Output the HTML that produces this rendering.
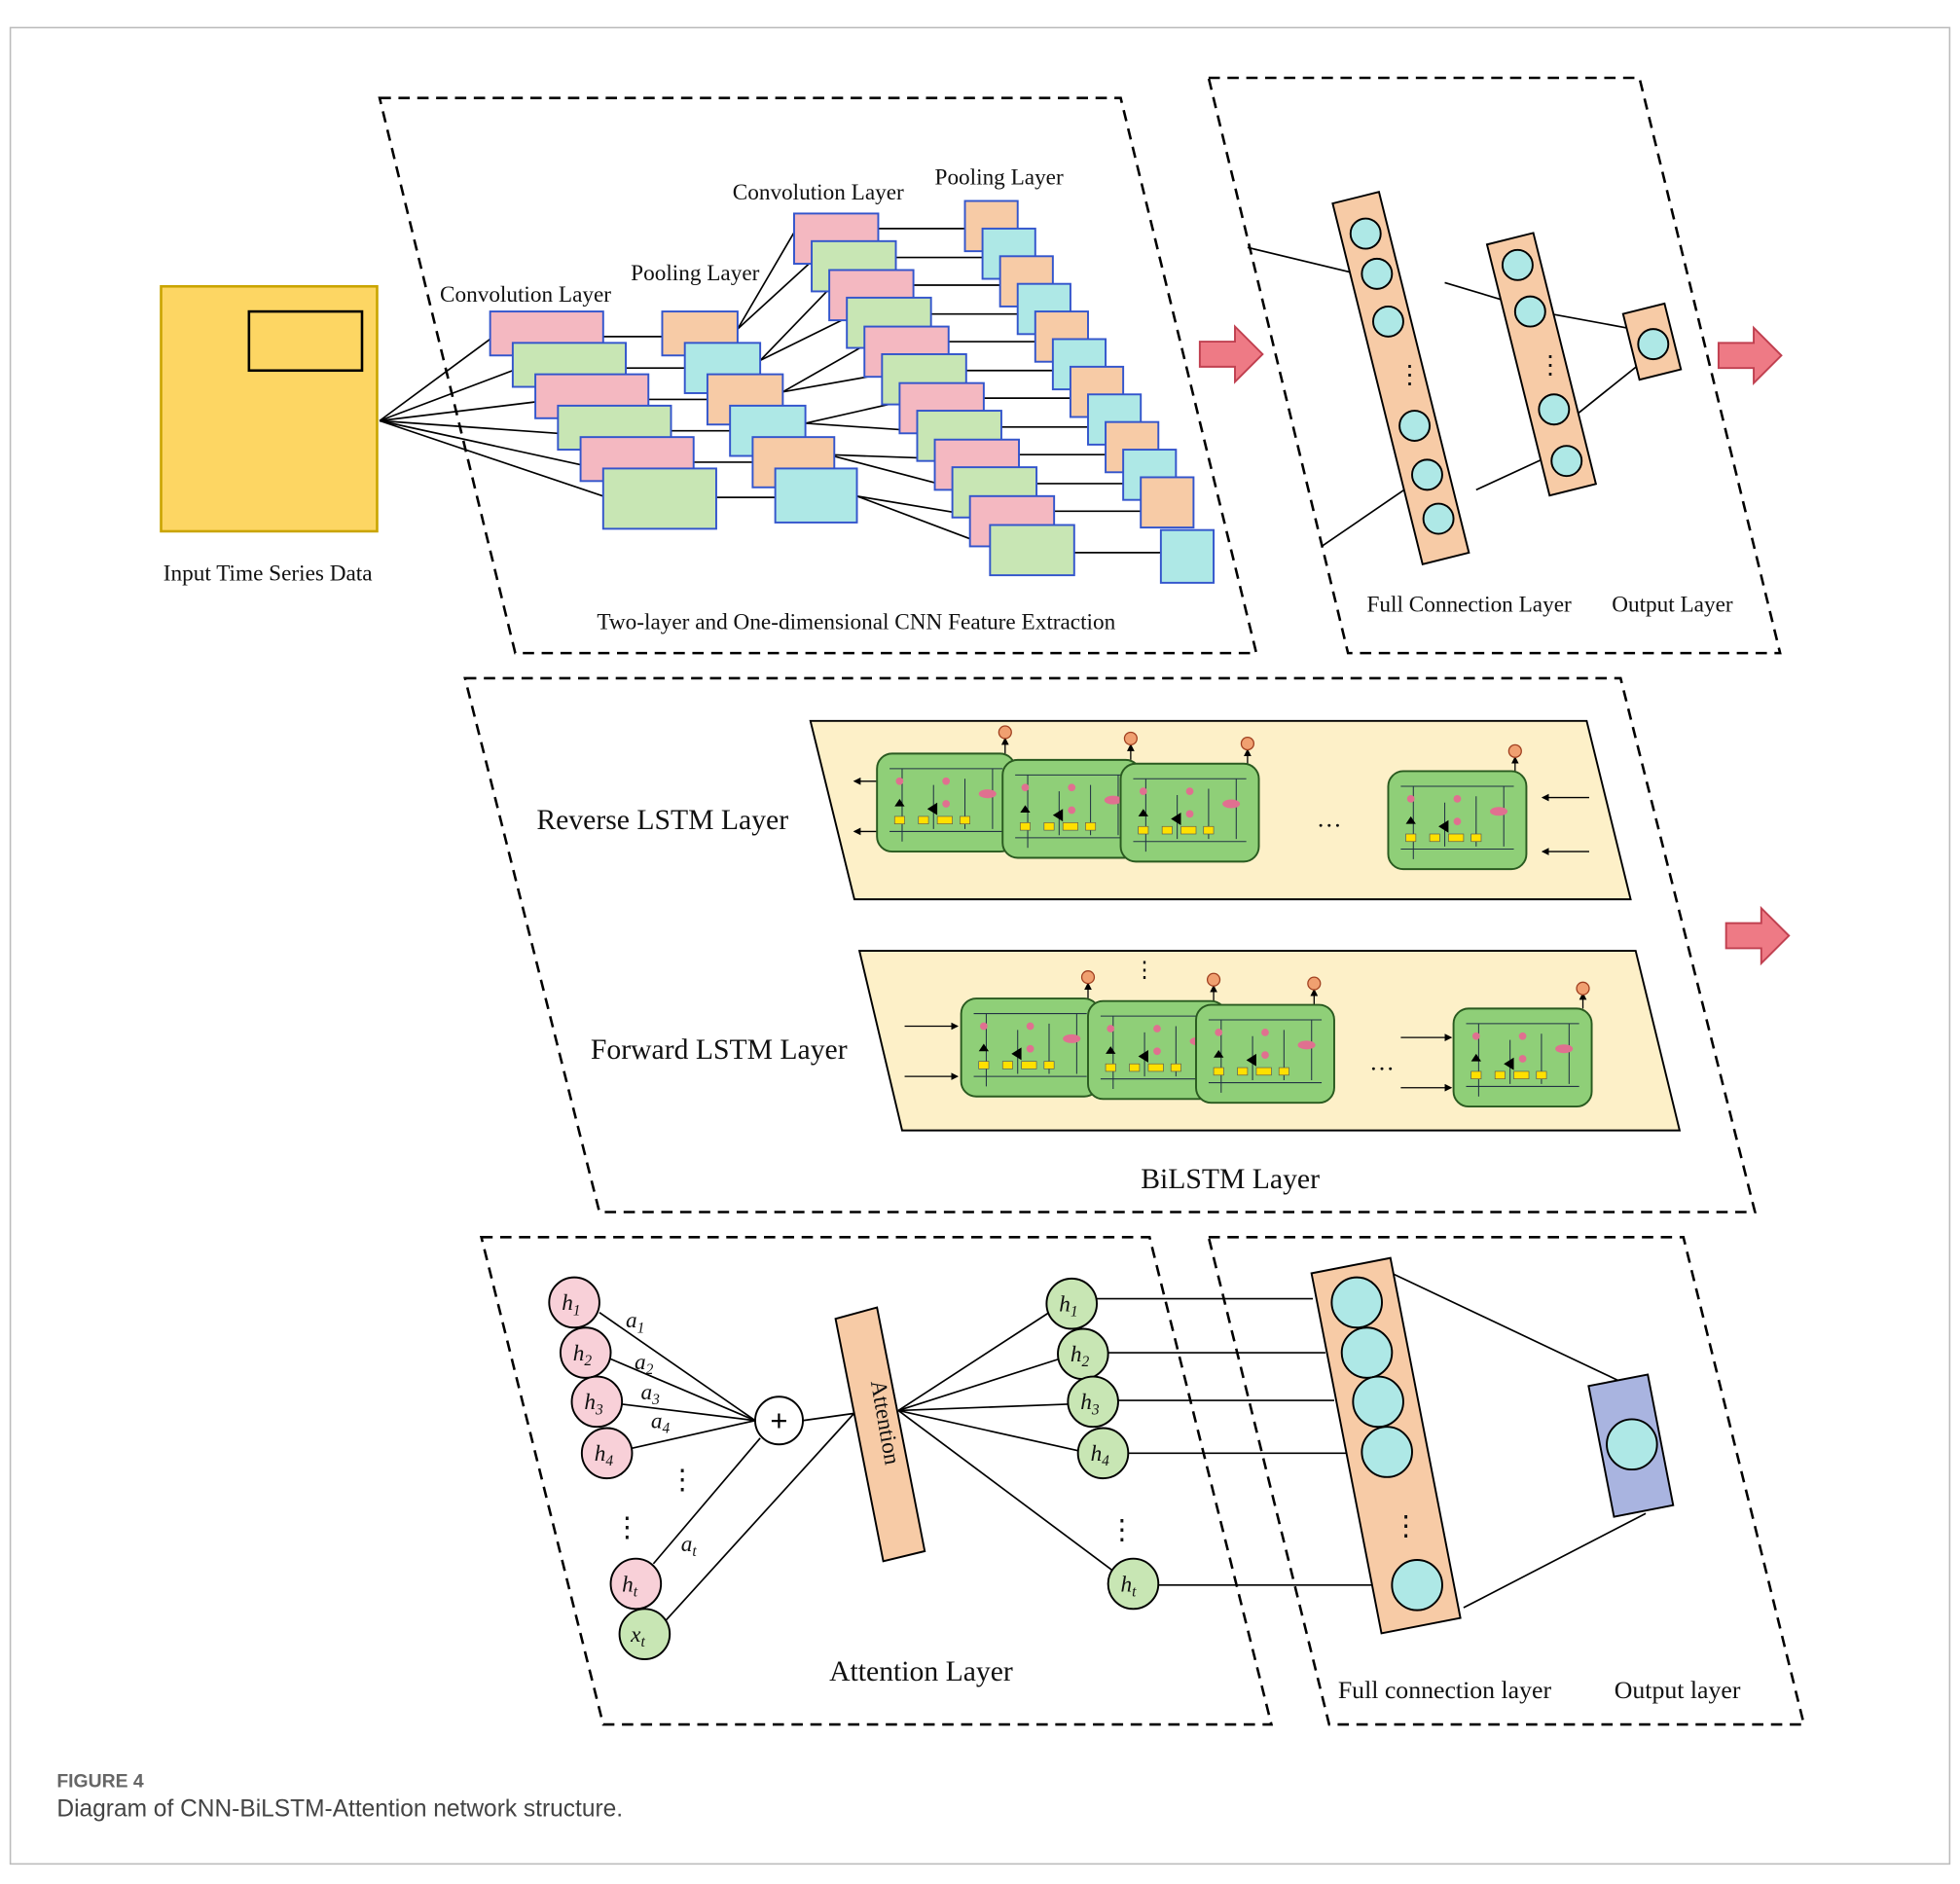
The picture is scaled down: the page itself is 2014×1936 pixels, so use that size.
<!DOCTYPE html>
<html><head><meta charset="utf-8"><style>
html,body{margin:0;padding:0;background:#fff;}
svg{display:block;}
.s{font-family:"Liberation Serif",serif;fill:#111;}
</style></head><body>
<svg width="2014" height="1936" viewBox="0 0 1560 1500" xmlns="http://www.w3.org/2000/svg">
<defs>
<marker id="ah" markerWidth="6" markerHeight="6" refX="5" refY="3" orient="auto"><path d="M0,0 L6,3 L0,6z" fill="#000"/></marker>
<g id="cell">
 <rect x="0" y="0" width="110" height="78" rx="12" fill="#8fcf78" stroke="#2a5a20" stroke-width="1.5"/>
 <path d="M10,12 H100 M10,62 H100 M20,12 V70 M45,25 V60 M70,20 V60 M92,12 V60" stroke="#234" stroke-width="0.8" fill="none"/>
 <rect x="14" y="50" width="8" height="6" fill="#ffe000" stroke="#555" stroke-width="0.5"/>
 <rect x="33" y="50" width="8" height="6" fill="#ffe000" stroke="#555" stroke-width="0.5"/>
 <rect x="48" y="50" width="12" height="6" fill="#ffe000" stroke="#555" stroke-width="0.5"/>
 <rect x="66" y="50" width="8" height="6" fill="#ffe000" stroke="#555" stroke-width="0.5"/>
 <circle cx="18" cy="22" r="3" fill="#e07090"/><circle cx="55" cy="22" r="3" fill="#e07090"/><circle cx="55" cy="40" r="3" fill="#e07090"/>
 <ellipse cx="88" cy="32" rx="7" ry="3.5" fill="#e07090"/>
 <path d="M40,44 l8,-5 v10z M18,36 l-4,6 h8z" fill="#000"/>
</g>
</defs>
<rect x="8" y="22" width="1544" height="1462" fill="none" stroke="#bbb" stroke-width="1.2"/>
<g fill="none" stroke="#000" stroke-width="2" stroke-dasharray="9,6">
<polygon points="302,78 892,78 1000,520 410,520"/>
<polygon points="962,62 1305,62 1417,520 1073,520"/>
<polygon points="370,540 1290,540 1397,965 477,965"/>
<polygon points="383,985 915,985 1012,1373 480,1373"/>
<polygon points="962,985 1340,985 1436,1373 1058,1373"/>
</g>
<!-- input -->
<rect x="128" y="228" width="172" height="195" fill="#fdd663" stroke="#c9a400" stroke-width="2"/>
<rect x="198" y="248" width="90" height="47" fill="none" stroke="#000" stroke-width="2"/>
<text class="s" x="213" y="462" font-size="18" text-anchor="middle">Input Time Series Data</text>
<!-- CNN lines -->
<g stroke="#000" stroke-width="1.3">
<line x1="302" y1="335" x2="390" y2="270"/><line x1="302" y1="335" x2="408" y2="295"/><line x1="302" y1="335" x2="426" y2="320"/><line x1="302" y1="335" x2="444" y2="345"/><line x1="302" y1="335" x2="462" y2="370"/><line x1="302" y1="335" x2="480" y2="395"/>
<line x1="480" y1="268" x2="527" y2="268"/><line x1="498" y1="293" x2="545" y2="293"/><line x1="516" y1="318" x2="563" y2="318"/><line x1="534" y1="343" x2="581" y2="343"/><line x1="552" y1="368" x2="599" y2="368"/><line x1="570" y1="396" x2="617" y2="396"/>
<line x1="587" y1="262" x2="632" y2="185"/><line x1="587" y1="262" x2="646" y2="208"/><line x1="605" y1="287" x2="660" y2="230"/><line x1="605" y1="287" x2="674" y2="253"/><line x1="623" y1="312" x2="688" y2="275"/><line x1="623" y1="312" x2="702" y2="298"/><line x1="641" y1="337" x2="716" y2="320"/><line x1="641" y1="337" x2="730" y2="343"/><line x1="659" y1="362" x2="744" y2="365"/><line x1="659" y1="362" x2="758" y2="388"/><line x1="682" y1="395" x2="772" y2="410"/><line x1="682" y1="395" x2="788" y2="435"/>
</g>
<g stroke="#3355cc" stroke-width="1.5">
<rect x="390" y="248" width="90" height="35" fill="#f4b8c1"/>
<rect x="408" y="273" width="90" height="35" fill="#c8e6b4"/>
<rect x="426" y="298" width="90" height="35" fill="#f4b8c1"/>
<rect x="444" y="323" width="90" height="35" fill="#c8e6b4"/>
<rect x="462" y="348" width="90" height="35" fill="#f4b8c1"/>
<rect x="480" y="373" width="90" height="48" fill="#c8e6b4"/>
<rect x="527" y="248" width="60" height="35" fill="#f7cba6"/>
<rect x="545" y="273" width="60" height="40" fill="#aee8e6"/>
<rect x="563" y="298" width="60" height="40" fill="#f7cba6"/>
<rect x="581" y="323" width="60" height="40" fill="#aee8e6"/>
<rect x="599" y="348" width="65" height="40" fill="#f7cba6"/>
<rect x="617" y="373" width="65" height="43" fill="#aee8e6"/>
</g>
<g stroke="#000" stroke-width="1.3">
<line x1="699" y1="182" x2="768" y2="182"/><line x1="713" y1="205" x2="782" y2="205"/><line x1="727" y1="227" x2="796" y2="227"/><line x1="741" y1="250" x2="810" y2="250"/><line x1="755" y1="272" x2="824" y2="272"/><line x1="769" y1="295" x2="838" y2="295"/><line x1="783" y1="317" x2="852" y2="317"/><line x1="797" y1="340" x2="866" y2="340"/><line x1="811" y1="362" x2="880" y2="362"/><line x1="825" y1="385" x2="894" y2="385"/><line x1="839" y1="407" x2="908" y2="407"/><line x1="855" y1="440" x2="924" y2="440"/>
</g>
<g stroke="#3355cc" stroke-width="1.5">
<rect x="632" y="170" width="67" height="40" fill="#f4b8c1"/>
<rect x="646" y="192" width="67" height="40" fill="#c8e6b4"/>
<rect x="660" y="215" width="67" height="40" fill="#f4b8c1"/>
<rect x="674" y="237" width="67" height="40" fill="#c8e6b4"/>
<rect x="688" y="260" width="67" height="40" fill="#f4b8c1"/>
<rect x="702" y="282" width="67" height="40" fill="#c8e6b4"/>
<rect x="716" y="305" width="67" height="40" fill="#f4b8c1"/>
<rect x="730" y="327" width="67" height="40" fill="#c8e6b4"/>
<rect x="744" y="350" width="67" height="40" fill="#f4b8c1"/>
<rect x="758" y="372" width="67" height="40" fill="#c8e6b4"/>
<rect x="772" y="395" width="67" height="40" fill="#f4b8c1"/>
<rect x="788" y="418" width="67" height="40" fill="#c8e6b4"/>
<rect x="768" y="160" width="42" height="40" fill="#f7cba6"/>
<rect x="782" y="182" width="42" height="40" fill="#aee8e6"/>
<rect x="796" y="204" width="42" height="40" fill="#f7cba6"/>
<rect x="810" y="226" width="42" height="40" fill="#aee8e6"/>
<rect x="824" y="248" width="42" height="40" fill="#f7cba6"/>
<rect x="838" y="270" width="42" height="40" fill="#aee8e6"/>
<rect x="852" y="292" width="42" height="40" fill="#f7cba6"/>
<rect x="866" y="314" width="42" height="40" fill="#aee8e6"/>
<rect x="880" y="336" width="42" height="40" fill="#f7cba6"/>
<rect x="894" y="358" width="42" height="40" fill="#aee8e6"/>
<rect x="908" y="380" width="42" height="40" fill="#f7cba6"/>
<rect x="924" y="422" width="42" height="42" fill="#aee8e6"/>
</g>
<g class="s" font-size="18">
<text x="350" y="240">Convolution Layer</text>
<text x="502" y="223">Pooling Layer</text>
<text x="583" y="159">Convolution Layer</text>
<text x="744" y="147">Pooling Layer</text>
<text x="475" y="501">Two-layer and One-dimensional CNN Feature Extraction</text>
<text x="1088" y="487">Full Connection Layer</text>
<text x="1283" y="487">Output Layer</text>
</g>
<!-- pink arrows -->
<g fill="#ee7a85" stroke="#c04050" stroke-width="1.5">
<path d="M955,272 h28 v-12 l22,22 l-22,22 v-12 h-28z"/>
<path d="M1368,273 h28 v-12 l22,22 l-22,22 v-12 h-28z"/>
<path d="M1374,735 h28 v-12 l22,22 l-22,22 v-12 h-28z"/>
</g>
<!-- FC top -->
<g stroke="#000" stroke-width="1.3">
<line x1="993" y1="197" x2="1080" y2="218"/><line x1="1052" y1="435" x2="1125" y2="385"/>
<line x1="1150" y1="225" x2="1200" y2="240"/><line x1="1175" y1="390" x2="1240" y2="360"/>
<line x1="1235" y1="250" x2="1300" y2="262"/><line x1="1255" y1="330" x2="1305" y2="290"/>
</g>
<g transform="rotate(-14 1115 301)"><rect x="1096" y="153" width="38" height="296" fill="#f7cba6" stroke="#000" stroke-width="1.5"/></g>
<g transform="rotate(-14 1227 290)"><rect x="1208" y="187" width="38" height="206" fill="#f7cba6" stroke="#000" stroke-width="1.5"/></g>
<g transform="rotate(-14 1315 272)"><rect x="1298" y="245" width="34" height="54" fill="#f7cba6" stroke="#000" stroke-width="1.5"/></g>
<g fill="#aee8e6" stroke="#000" stroke-width="1.5">
<circle cx="1087" cy="186" r="12"/><circle cx="1096" cy="218" r="12"/><circle cx="1105" cy="256" r="12"/><circle cx="1126" cy="339" r="12"/><circle cx="1136" cy="378" r="12"/><circle cx="1145" cy="413" r="12"/>
<circle cx="1208" cy="211" r="12"/><circle cx="1218" cy="248" r="12"/><circle cx="1237" cy="326" r="12"/><circle cx="1247" cy="367" r="12"/>
<circle cx="1316" cy="274" r="12"/>
</g>
<text class="s" x="1112" y="305" font-size="20">⋮</text><text class="s" x="1224" y="297" font-size="20">⋮</text>
<!-- BiLSTM -->
<polygon points="645,574 1263,574 1298,716 680,716" fill="#fdf0c8" stroke="#000" stroke-width="1.5"/>
<polygon points="684,757 1302,757 1337,900 718,900" fill="#fdf0c8" stroke="#000" stroke-width="1.5"/>
<g stroke="#000" stroke-width="1" marker-end="url(#ah)">
<line x1="700" y1="622" x2="680" y2="622"/><line x1="700" y1="662" x2="680" y2="662"/>
<line x1="1265" y1="635" x2="1228" y2="635"/><line x1="1265" y1="678" x2="1228" y2="678"/>
<line x1="720" y1="817" x2="762" y2="817"/><line x1="720" y1="857" x2="762" y2="857"/>
<line x1="1115" y1="826" x2="1155" y2="826"/><line x1="1115" y1="866" x2="1155" y2="866"/>
<line x1="800" y1="600" x2="800" y2="588"/><line x1="900" y1="605" x2="900" y2="593"/><line x1="993" y1="608" x2="993" y2="597"/><line x1="1206" y1="614" x2="1206" y2="603"/>
<line x1="866" y1="795" x2="866" y2="783"/><line x1="966" y1="797" x2="966" y2="785"/><line x1="1046" y1="800" x2="1046" y2="788"/><line x1="1260" y1="803" x2="1260" y2="791"/>
</g>
<g fill="#f0a070" stroke="#a04020" stroke-width="1">
<circle cx="800" cy="583" r="5"/><circle cx="900" cy="588" r="5"/><circle cx="993" cy="592" r="5"/><circle cx="1206" cy="598" r="5"/>
<circle cx="866" cy="778" r="5"/><circle cx="966" cy="780" r="5"/><circle cx="1046" cy="783" r="5"/><circle cx="1260" cy="787" r="5"/>
</g>
<use href="#cell" x="698" y="600"/><use href="#cell" x="798" y="605"/><use href="#cell" x="892" y="608"/><use href="#cell" x="1105" y="614"/>
<use href="#cell" x="765" y="795"/><use href="#cell" x="866" y="797"/><use href="#cell" x="952" y="800"/><use href="#cell" x="1157" y="803"/>
<text class="s" x="1048" y="658" font-size="20">…</text><text class="s" x="1090" y="852" font-size="20">…</text>
<text class="s" x="902" y="778" font-size="18">⋮</text>
<g class="s" font-size="23">
<text x="427" y="660">Reverse LSTM Layer</text>
<text x="470" y="843">Forward LSTM Layer</text>
<text x="908" y="946">BiLSTM  Layer</text>
</g>
<!-- Attention -->
<g stroke="#000" stroke-width="1.3" fill="none">
<line x1="477" y1="1045" x2="601" y2="1131"/><line x1="486" y1="1082" x2="601" y2="1131"/><line x1="495" y1="1118" x2="601" y2="1131"/><line x1="503" y1="1153" x2="601" y2="1131"/>
<line x1="520" y1="1245" x2="605" y2="1145"/><line x1="530" y1="1290" x2="680" y2="1125"/>
<line x1="639" y1="1131" x2="682" y2="1125"/>
<line x1="715" y1="1123" x2="835" y2="1045"/><line x1="715" y1="1123" x2="843" y2="1082"/><line x1="715" y1="1123" x2="850" y2="1118"/><line x1="715" y1="1123" x2="858" y2="1155"/><line x1="715" y1="1123" x2="885" y2="1250"/>
<line x1="873" y1="1034" x2="1045" y2="1034"/><line x1="882" y1="1077" x2="1055" y2="1077"/><line x1="890" y1="1115" x2="1062" y2="1115"/><line x1="898" y1="1157" x2="1072" y2="1157"/><line x1="922" y1="1262" x2="1095" y2="1262"/>
<line x1="1100" y1="1010" x2="1290" y2="1100"/><line x1="1165" y1="1280" x2="1310" y2="1205"/>
</g>
<polygon points="665,1050 698,1041 736,1235 703,1243" fill="#f7cba6" stroke="#000" stroke-width="1.5"/>
<text class="s" x="0" y="0" font-size="18" transform="translate(693,1100) rotate(80)">Attention</text>
<g transform="rotate(-11 1103 1150)"><rect x="1071" y="1005" width="64" height="292" fill="#f7cba6" stroke="#000" stroke-width="1.5"/></g>
<g transform="rotate(-11 1298 1150)"><rect x="1274" y="1098" width="48" height="106" fill="#a9b4e0" stroke="#000" stroke-width="1.5"/></g>
<g fill="#aee8e6" stroke="#000" stroke-width="1.5">
<circle cx="1080" cy="1037" r="20"/><circle cx="1088" cy="1077" r="20"/><circle cx="1097" cy="1116" r="20"/><circle cx="1104" cy="1156" r="20"/><circle cx="1128" cy="1262" r="20"/><circle cx="1299" cy="1150" r="20"/>
</g>
<text class="s" x="1108" y="1222" font-size="22">⋮</text>
<g fill="#f8d0d8" stroke="#000" stroke-width="1.5">
<circle cx="457" cy="1037" r="20"/><circle cx="466" cy="1077" r="20"/><circle cx="475" cy="1116" r="20"/><circle cx="483" cy="1157" r="20"/><circle cx="506" cy="1261" r="20"/>
</g>
<g fill="#c8e6b4" stroke="#000" stroke-width="1.5">
<circle cx="513" cy="1301" r="20"/>
<circle cx="853" cy="1038" r="20"/><circle cx="862" cy="1078" r="20"/><circle cx="870" cy="1116" r="20"/><circle cx="878" cy="1157" r="20"/><circle cx="902" cy="1261" r="20"/>
</g>
<circle cx="620" cy="1131" r="19" fill="#fff" stroke="#000" stroke-width="1.5"/>
<text x="620" y="1139" font-size="24" text-anchor="middle" font-family="Liberation Sans,sans-serif">+</text>
<g class="s" font-size="18" font-style="italic">
<text x="447" y="1043">h<tspan font-size="12" dy="4">1</tspan></text>
<text x="456" y="1083">h<tspan font-size="12" dy="4">2</tspan></text>
<text x="465" y="1122">h<tspan font-size="12" dy="4">3</tspan></text>
<text x="473" y="1163">h<tspan font-size="12" dy="4">4</tspan></text>
<text x="495" y="1267">h<tspan font-size="12" dy="4">t</tspan></text>
<text x="502" y="1307">x<tspan font-size="12" dy="4">t</tspan></text>
<text x="843" y="1044">h<tspan font-size="12" dy="4">1</tspan></text>
<text x="852" y="1084">h<tspan font-size="12" dy="4">2</tspan></text>
<text x="860" y="1122">h<tspan font-size="12" dy="4">3</tspan></text>
<text x="868" y="1163">h<tspan font-size="12" dy="4">4</tspan></text>
<text x="892" y="1267">h<tspan font-size="12" dy="4">t</tspan></text>
<text x="498" y="1057">a<tspan font-size="12" dy="4">1</tspan></text>
<text x="505" y="1090">a<tspan font-size="12" dy="4">2</tspan></text>
<text x="510" y="1114">a<tspan font-size="12" dy="4">3</tspan></text>
<text x="518" y="1137">a<tspan font-size="12" dy="4">4</tspan></text>
<text x="542" y="1235">a<tspan font-size="12" dy="4">t</tspan></text>
</g>
<text class="s" x="532" y="1185" font-size="22">⋮</text><text class="s" x="488" y="1223" font-size="22">⋮</text><text class="s" x="882" y="1225" font-size="22">⋮</text>
<g class="s" font-size="23">
<text x="660" y="1338">Attention Layer</text>
</g>
<g class="s" font-size="20">
<text x="1065" y="1352">Full connection layer</text>
<text x="1285" y="1352">Output layer</text>
</g>
<text x="45" y="1423" font-size="15" font-weight="bold" fill="#666" font-family="Liberation Sans,sans-serif">FIGURE 4</text>
<text x="45" y="1446" font-size="19" fill="#444" font-family="Liberation Sans,sans-serif">Diagram of CNN-BiLSTM-Attention network structure.</text>
</svg>
</body></html>
